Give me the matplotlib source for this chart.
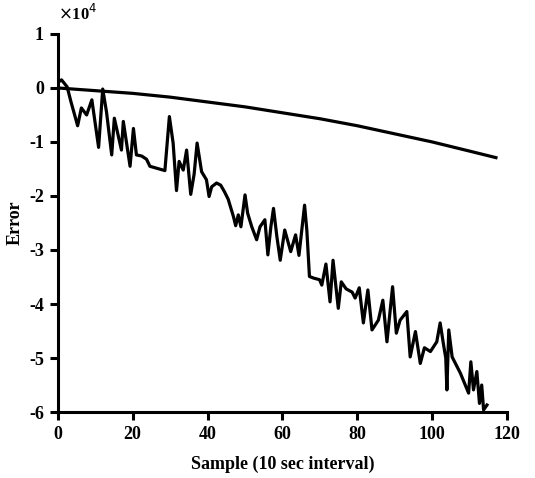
import matplotlib
matplotlib.use('Agg')
import matplotlib.pyplot as plt

plt.rcParams['font.family'] = ['Liberation Serif', 'DejaVu Serif']
plt.rcParams['axes.unicode_minus'] = False

# smooth (model) error curve
smooth_x = [0, 10, 20, 30, 40, 50, 60, 70, 80, 90, 100, 110, 117]
smooth_y = [0, -0.05, -0.10, -0.17, -0.26, -0.35, -0.46, -0.57, -0.70, -0.85, -1.00, -1.17, -1.29]

noisy_x = [0, 1, 2.5, 3.5, 5.3, 6.3, 7.7, 9.1, 10.9, 12.0, 13.0, 14.4, 15.1, 17.0, 17.5,
           19.3, 20.2, 21.0, 22.4, 23.7, 24.6, 28.6, 29.8, 30.8, 31.7, 32.4, 33.5, 34.4,
           35.5, 36.4, 37.2, 38.4, 39.7, 40.4, 41.1, 42.4, 43.5, 44.5, 45.5, 46.9, 47.5,
           48.2, 48.9, 50.0, 50.7, 51.8, 53.1, 54.0, 55.3, 56.1, 56.9, 57.6, 58.5, 59.4,
           60.6, 62.2, 63.5, 64.4, 65.9, 66.5, 67.2, 68.3, 69.9, 70.5, 71.6, 72.7, 73.5,
           74.9, 75.7, 77.0, 78.6, 79.4, 80.5, 81.6, 82.8, 83.9, 85.6, 86.8, 87.9, 89.4,
           90.4, 91.4, 93.2, 94.1, 95.5, 96.8, 97.9, 99.5, 101.2, 102.1, 103.0, 103.6,
           103.9, 104.4, 105.3, 107.5, 109.7, 110.3, 111.0, 111.9, 112.6, 113.2, 113.7,
           114.6]
noisy_y = [0.10, 0.15, 0.02, -0.25, -0.70, -0.37, -0.50, -0.22, -1.10, -0.02, -0.44, -1.24,
           -0.56, -1.15, -0.62, -1.45, -0.75, -1.24, -1.26, -1.32, -1.45, -1.53, -0.53,
           -1.02, -1.90, -1.36, -1.52, -1.15, -1.97, -1.60, -1.02, -1.55, -1.70, -2.01,
           -1.83, -1.76, -1.80, -1.92, -2.06, -2.38, -2.55, -2.35, -2.57, -1.98, -2.32,
           -2.57, -2.81, -2.57, -2.44, -3.09, -2.57, -2.23, -2.75, -3.19, -2.63, -3.03,
           -2.72, -3.10, -2.17, -2.63, -3.49, -3.52, -3.55, -3.65, -3.26, -3.96, -3.19,
           -4.08, -3.59, -3.72, -3.78, -3.89, -3.70, -4.35, -3.74, -4.48, -4.30, -3.93,
           -4.70, -3.68, -4.54, -4.30, -4.14, -4.98, -4.51, -5.10, -4.81, -4.88, -4.70,
           -4.35, -4.75, -5.00, -5.59, -4.48, -4.98, -5.28, -5.65, -5.07, -5.59, -5.25,
           -5.84, -5.50, -5.96, -5.87]

x_ticks = [0, 20, 40, 60, 80, 100, 120]
y_ticks = [-6, -5, -4, -3, -2, -1, 0, 1]

fig = plt.figure(figsize=(5.35, 4.78), dpi=100)
ax = fig.add_axes([0.108, 0.138, 0.840, 0.791])

ax.plot(smooth_x, smooth_y, color='black', lw=2.3)
ax.plot(noisy_x, noisy_y, color='black', lw=2.3)

ax.set_xlim(0, 120)
ax.set_ylim(-6, 1)
ax.set_xticks(x_ticks)
ax.set_yticks(y_ticks)
ax.spines['top'].set_visible(False)
ax.spines['right'].set_visible(False)
for s in ['left', 'bottom']:
    ax.spines[s].set_linewidth(2.2)
ax.tick_params(direction='out', length=6, width=2.2, labelsize=13, pad=4)
for lbl in ax.get_xticklabels() + ax.get_yticklabels():
    lbl.set_fontweight('bold')

ax.set_xlabel('Sample (10 sec interval)', fontsize=13, fontweight='bold', labelpad=9)
ax.set_ylabel('Error', fontsize=13, fontweight='bold', labelpad=4)
ax.text(0.0, 1.025, r'$\times$10$^4$', transform=ax.transAxes, fontsize=12,
        fontweight='bold', ha='left', va='bottom')

fig.savefig('out.png', dpi=100)
